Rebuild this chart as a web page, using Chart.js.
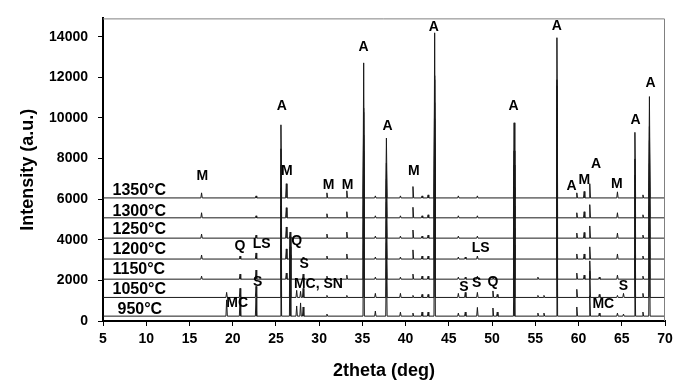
<!DOCTYPE html>
<html>
<head>
<meta charset="utf-8">
<script src="https://cdn.jsdelivr.net/npm/chart.js@4.4.0/dist/chart.umd.min.js"></script>
<style>
  html, body { margin: 0; padding: 0; background: #fff; }
</style>
</head>
<body>
<canvas id="myChart" width="685" height="390"></canvas>
<script>
// 焼成温度ごとのXRDパターン（ベースライン＋ピーク高さ）
const temperatures = ['950°C', '1050°C', '1150°C', '1200°C', '1250°C', '1300°C', '1350°C'];
const baselines = [240, 1160, 2060, 3050, 4080, 5080, 6060];

const peakAngles = [16.4, 19.3, 20.85, 22.7, 25.58, 26.2, 26.64, 27.4, 27.85, 28.15,
                    30.9, 33.2, 35.15, 36.5, 37.78, 39.4, 40.85, 41.9, 42.6, 43.36,
                    46.1, 46.9, 48.3, 50.1, 50.6, 52.55, 55.3, 56.0, 57.5, 59.8,
                    60.65, 61.3, 62.4, 64.5, 65.2, 66.52, 67.45, 68.2];

const peaks950  = [0, 800, 900, 900, 3500, 0, 3900, 500, 650, 450,
                   100, 0, 6200, 250, 2800, 200, 150, 200, 200, 7800,
                   150, 200, 430, 400, 200, 3500, 150, 150, 7500, 450,
                   0, 1000, 150, 150, 100, 3000, 200, 4700];
const peaks1050 = [0, 250, 450, 550, 3400, 0, 2900, 350, 300, 450,
                   100, 100, 6000, 200, 2700, 200, 100, 150, 150, 7600,
                   200, 250, 250, 320, 150, 3400, 100, 100, 7300, 400,
                   0, 1300, 150, 100, 200, 2900, 200, 4500];
const peaks1150 = [150, 0, 250, 450, 3600, 300, 1200, 0, 0, 250,
                   150, 200, 6300, 100, 2900, 100, 250, 150, 150, 7900,
                   100, 100, 150, 100, 0, 3600, 100, 0, 7600, 300,
                   200, 900, 100, 200, 0, 3100, 150, 4800];
const peaks1200 = [200, 0, 150, 300, 3500, 500, 600, 0, 0, 100,
                   150, 250, 6100, 100, 2800, 100, 450, 150, 150, 7700,
                   100, 100, 150, 0, 0, 3500, 0, 0, 7400, 250,
                   250, 600, 0, 250, 0, 3000, 150, 4700];
const peaks1250 = [200, 0, 0, 150, 3600, 550, 300, 0, 0, 0,
                   200, 300, 6200, 100, 2900, 100, 400, 100, 150, 7800,
                   100, 0, 100, 0, 0, 3600, 0, 0, 7500, 250,
                   280, 600, 0, 250, 0, 3100, 150, 4800];
const peaks1300 = [250, 0, 0, 100, 3400, 500, 0, 0, 0, 0,
                   200, 300, 5400, 100, 2700, 100, 520, 100, 150, 7000,
                   100, 0, 100, 0, 0, 3300, 0, 0, 6800, 250,
                   300, 650, 0, 250, 0, 2900, 150, 4500];
const peaks1350 = [250, 0, 0, 100, 3600, 700, 0, 0, 0, 0,
                   250, 350, 6650, 100, 2950, 100, 560, 100, 150, 8130,
                   100, 0, 100, 0, 0, 3700, 0, 0, 7890, 250,
                   320, 700, 0, 300, 0, 3230, 150, 4990];

const allPeaks = [peaks950, peaks1050, peaks1150, peaks1200, peaks1250, peaks1300, peaks1350];

const xTicks = [5, 10, 15, 20, 25, 30, 35, 40, 45, 50, 55, 60, 65, 70];
const yTicks = [0, 2000, 4000, 6000, 8000, 10000, 12000, 14000];

const HALF = 0.08;  // ピークの半幅 (deg)

function buildPattern(base, heights) {
    const pts = [{x: xTicks[0], y: base}];
    peakAngles.forEach((a, i) => {
        if (!heights[i]) return;
        pts.push({x: a - HALF, y: base}, {x: a, y: base + heights[i]}, {x: a + HALF, y: base});
    });
    pts.push({x: xTicks[xTicks.length - 1], y: base});
    return pts;
}

// 温度ラベルと相のラベル（データ座標）
const tempLabelPos = [[6.68, 570], [6.1, 1570], [6.1, 2520], [6.1, 3520], [6.1, 4480], [6.1, 5380], [6.1, 6430]];
const phaseLabels = [
    ['A', 25.67, 10560], ['A', 35.14, 13490], ['A', 37.92, 9600], ['A', 43.26, 14490],
    ['A', 52.47, 10560], ['A', 57.5, 14520], ['A', 66.58, 9890], ['A', 68.32, 11710],
    ['A', 62.02, 7700], ['A', 59.2, 6630], ['M', 60.66, 6950], ['M', 64.42, 6750],
    ['M', 40.94, 7380], ['M', 16.5, 7110], ['M', 26.25, 7380], ['M', 31.08, 6700],
    ['M', 33.28, 6700], ['Q', 20.84, 3680], ['LS', 23.35, 3780], ['Q', 27.41, 3940],
    ['S', 28.26, 2780], ['S', 22.89, 1900], ['MC, SN', 29.92, 1830], ['MC', 20.52, 870],
    ['LS', 48.68, 3600], ['S', 46.74, 1670], ['S', 48.21, 1860], ['Q', 50.1, 1900],
    ['S', 65.19, 1700], ['MC', 62.86, 820]
];

const FONT = '"Liberation Sans", Arial, sans-serif';
Chart.defaults.font.family = FONT;
Chart.defaults.color = '#000';

const overlay = {
    id: 'overlay',
    afterDatasetsDraw(chart) {
        const {ctx, chartArea: ca, scales: {x, y}} = chart;
        ctx.save();
        // 上と右の枠線
        ctx.strokeStyle = '#808080';
        ctx.lineWidth = 1;
        ctx.beginPath();
        ctx.moveTo(ca.left, ca.top + 0.5);
        ctx.lineTo(ca.right - 0.5, ca.top + 0.5);
        ctx.lineTo(ca.right - 0.5, ca.bottom);
        ctx.stroke();

        ctx.fillStyle = '#000';
        ctx.textBaseline = 'middle';
        ctx.textAlign = 'left';
        ctx.font = 'bold 16px ' + FONT;
        temperatures.forEach((t, i) => {
            const [a, v] = tempLabelPos[i];
            ctx.fillText(t, x.getPixelForValue(a), y.getPixelForValue(v));
        });

        ctx.textAlign = 'center';
        ctx.font = 'bold 14px ' + FONT;
        phaseLabels.forEach(([t, a, v]) => {
            ctx.fillText(t, x.getPixelForValue(a), y.getPixelForValue(v));
        });
        ctx.restore();
    }
};

const ctx = document.getElementById('myChart').getContext('2d');

const data = {
    datasets: allPeaks.map((p, i) => ({
        label: temperatures[i],
        data: buildPattern(baselines[i], p),
        borderColor: '#1a1a1a',
        borderWidth: 1,
        pointRadius: 0,
        tension: 0
    }))
};

const config = {
    type: 'line',
    data: data,
    options: {
        responsive: false,
        animation: false,
        layout: { padding: { top: 7, right: 20, left: 0, bottom: 0 } },
        scales: {
            x: {
                type: 'linear',
                min: 5,
                max: 70,
                afterFit: (s) => { s.height = 69; },
                afterBuildTicks: (s) => { s.ticks = xTicks.map(v => ({value: v})); },
                ticks: { padding: 5, font: { size: 14, weight: 'bold' }, callback: (v) => String(v) },
                grid: { drawOnChartArea: false, drawTicks: true, tickLength: 5, tickColor: '#000' },
                border: { display: true, color: '#000', width: 2 },
                title: {
                    display: true,
                    text: '2theta (deg)',
                    font: { size: 18, weight: 'bold' },
                    padding: { top: 0, bottom: 8 }
                }
            },
            y: {
                min: 0,
                max: 14900,
                afterFit: (s) => { s.width = 103; },
                afterBuildTicks: (s) => { s.ticks = yTicks.map(v => ({value: v})); },
                ticks: { padding: 10, font: { size: 14, weight: 'bold' }, callback: (v) => String(v) },
                grid: { drawOnChartArea: false, drawTicks: true, tickLength: 5, tickColor: '#000' },
                border: { display: true, color: '#000', width: 2 },
                title: {
                    display: true,
                    text: 'Intensity (a.u.)',
                    font: { size: 18, weight: 'bold' },
                    padding: { top: 17, bottom: 0 }
                }
            }
        },
        plugins: {
            legend: { display: false },
            tooltip: { enabled: false }
        }
    },
    plugins: [overlay]
};

const myChart = new Chart(ctx, config);
</script>
</body>
</html>
